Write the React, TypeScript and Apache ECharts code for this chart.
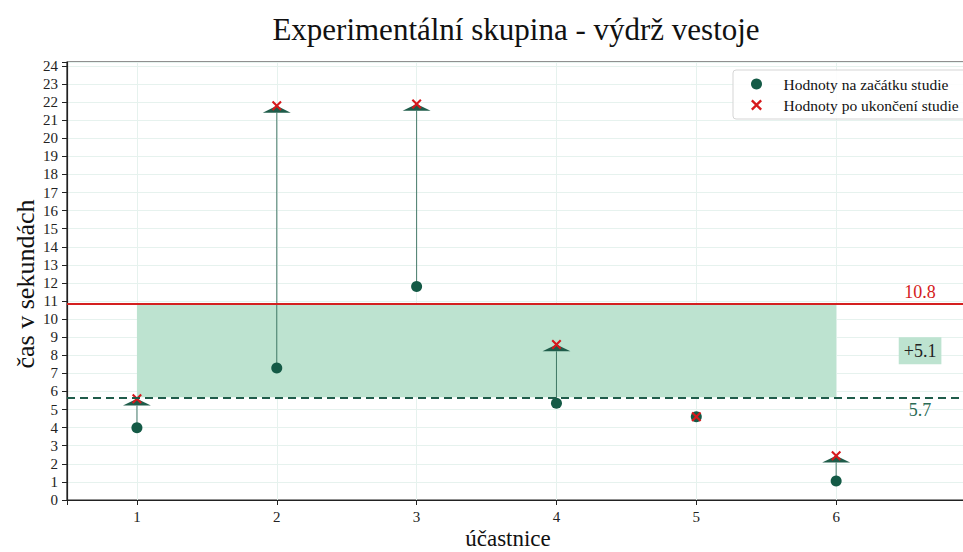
import React, { useEffect, useRef } from 'react';
import * as echarts from 'echarts';

const participants = [1, 2, 3, 4, 5, 6];
const startValues = [4.0, 7.3, 11.8, 5.35, 4.6, 1.05];
const endValues = [5.6, 21.8, 21.9, 8.6, 4.6, 2.45];
const seriesNames = ['Hodnoty na začátku studie', 'Hodnoty po ukončení studie'];
const titleText = 'Experimentální skupina - výdrž vestoje';
const xAxisTitle = 'účastnice';
const yAxisTitle = 'čas v sekundách';

const FONT = "'Liberation Serif', 'Times New Roman', 'DejaVu Serif', serif";
const GREEN = '#145a46';
const LINE_GREEN = '#1f5c4a';
const RED = '#d7191c';
const AREA = '#bde3d0';
const CROSS = 'path://M1.5,0 L5,3.5 L8.5,0 L10,1.5 L6.5,5 L10,8.5 L8.5,10 L5,6.5 L1.5,10 L0,8.5 L3.5,5 L0,1.5 Z';

const mean = (a: number[]) => a.reduce((s, v) => s + v, 0) / a.length;

export default function App() {
  const ref = useRef<HTMLDivElement>(null);
  useEffect(() => {
    document.body.style.margin = '0';
    const chart = echarts.init(ref.current!, null, { renderer: 'svg' });
    const meanStart = mean(startValues);
    const meanEnd = mean(endValues);
    const diff = meanEnd - meanStart;
    const arrowData = participants.map((p, i) => [p, startValues[i], endValues[i]]);
    const lastP = participants[participants.length - 1];
    const intLabel = (v: number) => (Math.abs(v - Math.round(v)) < 1e-6 ? String(Math.round(v)) : '');
    const xLabel = (v: number) => (v > lastP ? '' : intLabel(v));

    chart.setOption({
      animation: false,
      grid: {
        left: 67, right: -13, top: 62, bottom: 52,
        containLabel: false, outerBoundsMode: 'none',
        show: true, borderColor: '#222', borderWidth: 1.2, backgroundColor: 'transparent',
      },
      xAxis: {
        type: 'value', min: 0.5, max: 7, minInterval: 1, maxInterval: 1,
        axisLine: { show: true, onZero: false, lineStyle: { color: '#222', width: 1.2 } },
        axisTick: { show: true, length: 5, lineStyle: { color: '#222' } },
        axisLabel: { formatter: xLabel, fontFamily: FONT, fontSize: 15, color: '#222', margin: 9, showMaxLabel: false },
        splitLine: { show: true, lineStyle: { color: '#e6f2ee', width: 1 } },
      },
      yAxis: {
        type: 'value', min: 0, max: 24.22, interval: 1,
        axisLine: { show: true, lineStyle: { color: '#222', width: 1.2 } },
        axisTick: { show: true, length: 5, lineStyle: { color: '#222' } },
        axisLabel: { formatter: intLabel, fontFamily: FONT, fontSize: 15, color: '#222', margin: 9 },
        splitLine: { show: true, lineStyle: { color: '#e6f2ee', width: 1 } },
      },
      legend: {
        orient: 'vertical', left: 733, top: 70,
        itemWidth: 44, itemHeight: 11, itemGap: 5,
        padding: [6, 10, 6, 18],
        borderColor: '#d5d5d5', borderWidth: 1, borderRadius: 3,
        backgroundColor: 'rgba(255,255,255,0.85)',
        textStyle: { fontFamily: FONT, fontSize: 15.5, color: '#111' },
        data: [
          { name: seriesNames[0], icon: 'circle' },
          { name: seriesNames[1], icon: CROSS },
        ],
      },
      series: [
        {
          type: 'custom', name: 'arrows', z: 2, silent: true,
          data: arrowData,
          encode: { x: 0, y: [1, 2] },
          renderItem: (params: any, api: any) => {
            const x = api.value(0), s = api.value(1), e = api.value(2);
            if (s === e) return { type: 'group', children: [] };
            const p0 = api.coord([x, s]);
            const p1 = api.coord([x, e]);
            const hw = api.size([0.1, 0])[0];
            const hl = api.size([0, 0.38])[1];
            const dir = e > s ? 1 : -1;
            const baseY = p1[1] + dir * hl;
            return {
              type: 'group',
              children: [
                { type: 'line', shape: { x1: p0[0], y1: p0[1], x2: p1[0], y2: baseY }, style: { stroke: LINE_GREEN, lineWidth: 1, opacity: 0.8 } },
                { type: 'polygon', shape: { points: [[p1[0] - hw, baseY], [p1[0] + hw, baseY], [p1[0], p1[1]]] }, style: { fill: LINE_GREEN } },
              ],
            };
          },
          markArea: {
            silent: true,
            itemStyle: { color: AREA, opacity: 1 },
            data: [[{ coord: [participants[0], meanStart] }, { coord: [lastP, meanEnd] }]],
          },
          markLine: {
            silent: true, symbol: 'none', label: { show: false },
            data: [
              { yAxis: meanEnd, lineStyle: { color: '#d42020', width: 2, type: 'solid' } },
              { yAxis: meanStart, lineStyle: { color: LINE_GREEN, width: 2, type: [8, 5] } },
            ],
          },
        },
        {
          type: 'scatter', name: seriesNames[0], z: 3,
          symbol: 'circle', symbolSize: 11,
          itemStyle: { color: GREEN, opacity: 1 },
          data: participants.map((p, i) => [p, startValues[i]]),
        },
        {
          type: 'scatter', name: seriesNames[1], z: 4,
          symbol: CROSS, symbolSize: 10,
          itemStyle: { color: RED, opacity: 1 },
          data: participants.map((p, i) => [p, endValues[i]]),
        },
      ],
    });

    const labelX = 6.6;
    const pEnd = chart.convertToPixel({ gridIndex: 0 }, [labelX, meanEnd + 0.7]) as number[];
    const pStart = chart.convertToPixel({ gridIndex: 0 }, [labelX, meanStart - 0.72]) as number[];
    const pDiff = chart.convertToPixel({ gridIndex: 0 }, [labelX, (meanEnd + meanStart) / 2]) as number[];

    chart.setOption({
      graphic: [
        { type: 'text', x: 516, y: 29, style: { text: titleText, font: `31px ${FONT}`, fill: '#111', textAlign: 'center', textVerticalAlign: 'middle' } },
        { type: 'text', x: 508, y: 538, style: { text: xAxisTitle, font: `23px ${FONT}`, fill: '#111', textAlign: 'center', textVerticalAlign: 'middle' } },
        { type: 'text', x: 25, y: 284, rotation: Math.PI / 2, style: { text: yAxisTitle, font: `26px ${FONT}`, fill: '#111', textAlign: 'center', textVerticalAlign: 'middle' } },
        { type: 'text', x: pEnd[0], y: pEnd[1], z: 10, style: { text: meanEnd.toFixed(1), font: `18px ${FONT}`, fill: '#d42020', textAlign: 'center', textVerticalAlign: 'middle' } },
        { type: 'text', x: pStart[0], y: pStart[1], z: 10, style: { text: meanStart.toFixed(1), font: `18px ${FONT}`, fill: '#2a6b55', textAlign: 'center', textVerticalAlign: 'middle' } },
        { type: 'text', x: pDiff[0], y: pDiff[1], z: 10, style: { text: '+' + diff.toFixed(1), font: `18px ${FONT}`, fill: '#222', textAlign: 'center', textVerticalAlign: 'middle', backgroundColor: AREA, padding: [5, 5, 4, 5] } },
      ],
    });

    return () => chart.dispose();
  }, []);
  return <div ref={ref} style={{ position: 'absolute', left: 0, top: 0, width: 963, height: 552 }} />;
}
